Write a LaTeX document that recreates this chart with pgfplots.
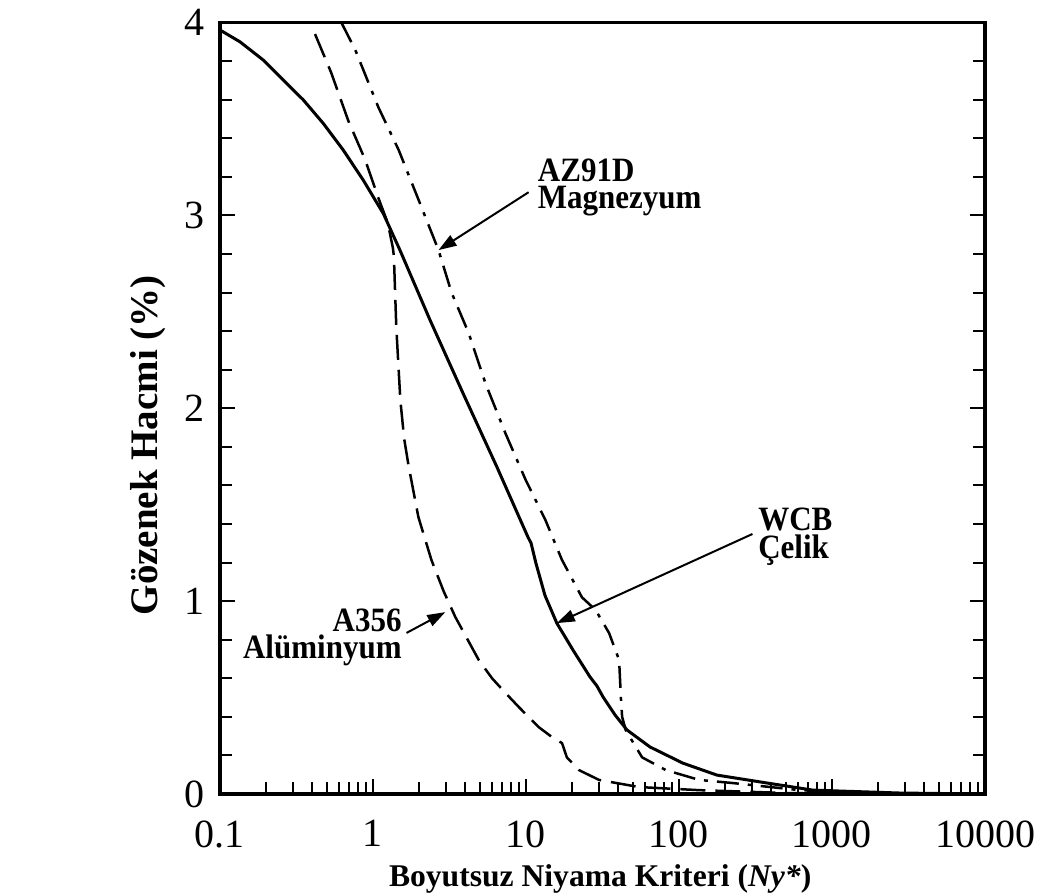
\documentclass[border=0pt]{standalone}
\usepackage{pgfplots}
\pgfplotsset{compat=1.18}
\usepackage{fontspec}
\setmainfont{Liberation Serif}
\usetikzlibrary{arrows.meta}
\newcommand{\annotL}[2]{\scalebox{1}[1.1]{\vbox{\baselineskip=12.4pt\lineskiplimit=-\maxdimen\halign{##\hfil\cr#1\cr#2\cr}}}}
\newcommand{\annotR}[2]{\scalebox{1}[1.1]{\vbox{\baselineskip=12.4pt\lineskiplimit=-\maxdimen\halign{\hfil##\cr#1\cr#2\cr}}}}
\begin{document}
\begin{tikzpicture}
\useasboundingbox (0,0) rectangle (520.5pt,448pt);
\begin{axis}[
  at={(110pt,51pt)}, anchor=south west,
  scale only axis, width=382.5pt, height=385.75pt,
  xmode=log, xmin=0.1, xmax=10000, ymin=0, ymax=4,
  axis line style={line width=1.8pt},
  tick align=inside,
  xtick pos=left, ytick pos=both,
  xtick={0.1,1,10,100,1000,10000},
  xticklabels={0.1,1,10,100,1000,10000},
  minor xtick={0.2,0.3,0.4,0.5,0.6,0.7,0.8,0.9,2,3,4,5,6,7,8,9,20,30,40,50,60,70,80,90,200,300,400,500,600,700,800,900,2000,3000,4000,5000,6000,7000,8000,9000},
  ytick={0,1,2,3,4},
  yticklabels={0,1,2,3,4},
  minor y tick num=4,
  major tick length=7.5pt, minor tick length=6pt,
  tick style={line width=1pt, black},
  /pgf/number format/assume math mode=true,
  ticklabel style={font=\fontsize{20}{22}\selectfont},
  xticklabel style={inner sep=0pt, anchor=north, yshift=-13pt},
  yticklabel style={inner sep=0pt, anchor=east, xshift=-7.5pt},
  xlabel={Boyutsuz Niyama Kriteri (\textit{Ny*})},
  xlabel style={at={(axis description cs:0.497,-0.1205)}, anchor=base, inner sep=0pt, font=\bfseries\fontsize{15.8}{18}\selectfont},
  ylabel={Gözenek Hacmi (\%)},
  ylabel style={at={(axis description cs:-0.094,0.452)}, anchor=center, inner sep=0pt, font=\bfseries\fontsize{19.5}{22}\selectfont},
  clip=true,
]
% WCB Celik (solid)
\addplot[black, line width=1.5pt, line join=round] coordinates {
(0.1,3.961) (0.135,3.900) (0.192,3.805) (0.247,3.718) (0.350,3.599) (0.473,3.477)
(0.640,3.338) (0.865,3.182) (1.167,3.010) (1.50,2.820) (2.36,2.457) (3.87,2.079)
(6.46,1.695) (10.3,1.332) (10.8,1.30) (11.6,1.198) (13.3,1.03) (15.9,0.886)
(20.3,0.746) (26.2,0.607) (29.1,0.56) (31.9,0.503) (38.2,0.41) (45.7,0.332)
(64.6,0.244) (106,0.16) (177,0.098) (376,0.057) (751,0.02) (2780,0.005) (10000,0)
};
% A356 Aluminyum (dashed)
\addplot[black, line width=1.25pt, dash pattern=on 12.5pt off 5pt, line join=round] coordinates {
(0.418,3.94) (0.533,3.74) (0.690,3.49) (0.887,3.29) (1.085,3.09) (1.25,2.96) (1.35,2.83)
(1.37,2.785) (1.42,2.42) (1.51,2.04) (1.60,1.84) (1.71,1.70) (1.98,1.436) (2.41,1.213)
(2.90,1.05) (3.45,0.918) (4.91,0.695) (6.0,0.60) (7.34,0.524) (8.97,0.451) (12.1,0.347) (14.8,0.295)
(17.2,0.264) (18.5,0.19) (22.2,0.124) (30.0,0.073) (54.8,0.036) (135,0.02)
(500,0.005) (1000,0.002)
};
% AZ91D Magnezyum (dash-dot)
\addplot[black, line width=1.25pt, dash pattern=on 11pt off 4.5pt on 2pt off 4.5pt, line join=round] coordinates {
(0.621,4.0) (0.764,3.86) (1.085,3.56) (1.47,3.34) (2.08,3.04) (2.68,2.82)
(3.26,2.60) (4.22,2.39) (5.43,2.13) (7.34,1.87) (9.93,1.63) (13.4,1.42)
(17.2,1.213) (23.2,1.02) (28.5,0.954) (34.9,0.835) (40.6,0.695) (41.8,0.487)
(42.5,0.40) (44.9,0.33) (57.4,0.19) (82,0.124) (135.5,0.073) (223,0.057)
(614,0.02) (1500,0.005) (3000,0)
};
% annotations
\node[anchor=north west, inner sep=0pt, font=\bfseries\fontsize{15.5}{12.4}\selectfont] at (axis cs:11.9,3.297) {\annotL{AZ91D}{Magnezyum}};
\node[anchor=north west, inner sep=0pt, font=\bfseries\fontsize{15.5}{12.4}\selectfont] at (axis cs:328,1.483) {\annotL{WCB}{Çelik}};
\node[anchor=north east, inner sep=0pt, font=\bfseries\fontsize{15.5}{12.4}\selectfont] at (axis cs:1.547,0.964) {\annotR{A356}{Alüminyum}};
\draw[line width=1pt, -{Triangle[length=9pt,width=6pt]}] (axis cs:10.4,3.12) -- (axis cs:2.68,2.82);
\draw[line width=1pt, -{Triangle[length=9pt,width=6pt]}] (axis cs:302,1.348) -- (axis cs:15.9,0.886);
\draw[line width=1pt, -{Triangle[length=9pt,width=6pt]}] (axis cs:1.656,0.835) -- (axis cs:2.97,0.943);
\end{axis}
\end{tikzpicture}
\end{document}
